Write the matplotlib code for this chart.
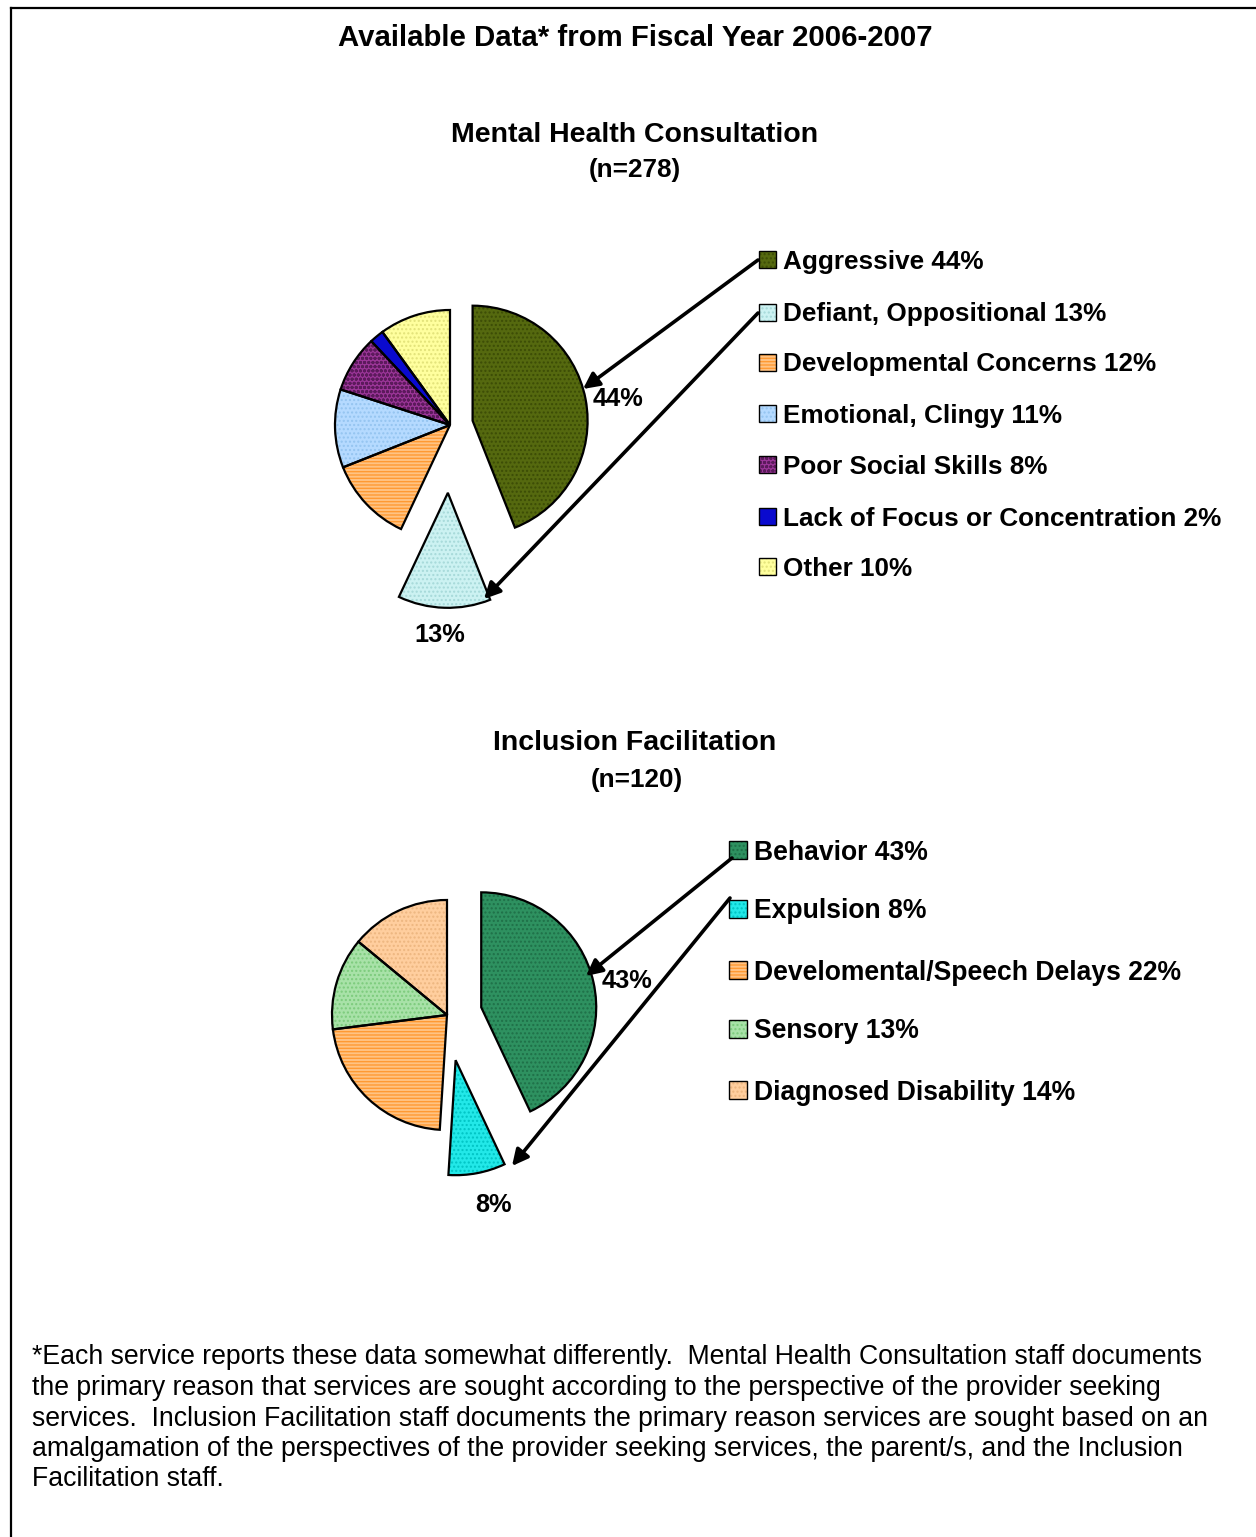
import matplotlib
matplotlib.use("Agg")
import matplotlib.pyplot as plt
from matplotlib.patches import Rectangle
from matplotlib.lines import Line2D

W, H = 1256, 1537
DPI = 100

# ---- data -------------------------------------------------------------
mh_labels = ["Aggressive", "Defiant, Oppositional", "Developmental Concerns",
             "Emotional, Clingy", "Poor Social Skills",
             "Lack of Focus or Concentration", "Other"]
mh_values = [44, 13, 12, 11, 8, 2, 10]
mh_n = 278

if_labels = ["Behavior", "Expulsion", "Develomental/Speech Delays",
             "Sensory", "Diagnosed Disability"]
if_values = [43, 8, 22, 13, 14]
if_n = 120

# ---- styles -----------------------------------------------------------
mh_face = ["#55690F", "#CCF2F2", "#FFC383", "#B5DAFF", "#9A3597", "#0A0ACF", "#FFFF9E"]
mh_hatchc = ["#3C4C06", "#A6D9D9", "#FF9A33", "#94C4F0", "#5C1A5C", "#00008A", "#E2E27A"]
mh_hatch = ["....", "....", "-----", "....", "oooo", "", "...."]
mh_explode = [0.2, 0.59, 0, 0, 0, 0, 0]      # fraction of the radius

if_face = ["#2E9160", "#22E8E8", "#FFC383", "#A8E2A8", "#FFCE9E"]
if_hatchc = ["#1F7048", "#00C4C4", "#FF9A33", "#7CCB7C", "#EDB680"]
if_hatch = ["....", "....", "-----", "....", "...."]
if_explode = [0.305, 0.40, 0, 0, 0]          # fraction of the radius

FONT = "Liberation Sans"
plt.rcParams["hatch.linewidth"] = 1.0
DY = 2.5  # text baseline nudge

fig = plt.figure(figsize=(W / DPI, H / DPI), dpi=DPI)
ax = fig.add_axes([0, 0, 1, 1])


def Y(y):
    """Convert a top-down pixel row into the axes' bottom-up coordinate."""
    return H - y


def text(x, y, s, fs, bold=True, ha="center"):
    ax.text(x, Y(y + DY), s, fontsize=fs, fontweight="bold" if bold else "normal",
            family=FONT, ha=ha, va="center")


def draw_pie(values, face, hatchc, hatch, explode, center, radius):
    offsets = [e * radius for e in explode]
    # fill + pattern pass
    wedges, _ = ax.pie(values, explode=offsets, radius=radius, center=center,
                       startangle=90, counterclock=False, colors=face,
                       hatch=hatch, wedgeprops=dict(linewidth=0))
    for w, hc in zip(wedges, hatchc):
        w.set_edgecolor(hc)
        w.set_linewidth(0)
    # outline pass
    ax.pie(values, explode=offsets, radius=radius, center=center,
           startangle=90, counterclock=False,
           wedgeprops=dict(fill=False, edgecolor="black", linewidth=1.6))


def legend_item(x, y, size, face, hc, hatch, label, fs):
    ax.add_patch(Rectangle((x, Y(y) - size / 2), size, size, facecolor=face,
                           edgecolor=hc, hatch=hatch, linewidth=0))
    ax.add_patch(Rectangle((x, Y(y) - size / 2), size, size, fill=False,
                           edgecolor="black", linewidth=1.0))
    text(x + size + 7, y, label, fs, ha="left")


def arrow(start, tip):
    ax.annotate("", xy=(tip[0], Y(tip[1])), xytext=(start[0], Y(start[1])),
                arrowprops=dict(arrowstyle="-|>", color="black", lw=2.6,
                                mutation_scale=24, shrinkA=0, shrinkB=0))


# ---- titles -----------------------------------------------------------
text(635, 36, "Available Data* from Fiscal Year 2006-2007", 21.2)
text(635, 132, "Mental Health Consultation", 20.5)
text(635, 167, f"(n={mh_n})", 18.8)
text(635, 740, "Inclusion Facilitation", 20.5)
text(637, 777, f"(n={if_n})", 18.8)

# ---- Mental Health Consultation pie -------------------------------------
draw_pie(mh_values, mh_face, mh_hatchc, mh_hatch, mh_explode, (450, Y(425)), 115)
text(618, 397, f"{mh_values[0]}%", 18.3)
text(440, 633, f"{mh_values[1]}%", 18.3)

mh_rows = [259, 312, 362, 413, 464, 516, 566]
for yy, lab, v, fc, hc, ht in zip(mh_rows, mh_labels, mh_values, mh_face,
                                  mh_hatchc, mh_hatch):
    legend_item(759, yy, 17, fc, hc, ht, f"{lab} {v}%", 18.8)

arrow((758, 260), (583, 389))
arrow((758, 313), (484, 599))

# ---- Inclusion Facilitation pie ------------------------------------------
draw_pie(if_values, if_face, if_hatchc, if_hatch, if_explode, (447, Y(1015)), 115)
text(627, 978, f"{if_values[0]}%", 18.3)
text(493, 1203, f"{if_values[1]}%", 18.3)

if_rows = [850, 909, 970, 1029, 1090]
for yy, lab, v, fc, hc, ht in zip(if_rows, if_labels, if_values, if_face,
                                  if_hatchc, if_hatch):
    legend_item(729, yy, 18, fc, hc, ht, f"{lab} {v}%", 19.1)

arrow((732, 858), (586, 976))
arrow((730, 898), (512, 1166))

# ---- footnote ---------------------------------------------------------
foot = [
    "*Each service reports these data somewhat differently.  Mental Health Consultation staff documents",
    "the primary reason that services are sought according to the perspective of the provider seeking",
    "services.  Inclusion Facilitation staff documents the primary reason services are sought based on an",
    "amalgamation of the perspectives of the provider seeking services, the parent/s, and the Inclusion",
    "Facilitation staff.",
]
for i, line in enumerate(foot):
    text(32, 1355 + i * 30.5, line, 19.2, bold=False, ha="left")

ax.set_xlim(0, W)
ax.set_ylim(0, H)
ax.axis("off")

# frame around the page (top and left edges visible)
fig.add_artist(Line2D([11 / W, 11 / W], [0, 1 - 7.5 / H], color="black",
                      linewidth=1.6, transform=fig.transFigure))
fig.add_artist(Line2D([11 / W, 1], [1 - 7.5 / H, 1 - 7.5 / H], color="black",
                      linewidth=1.6, transform=fig.transFigure))

fig.savefig("out.png", dpi=DPI, facecolor="white")
